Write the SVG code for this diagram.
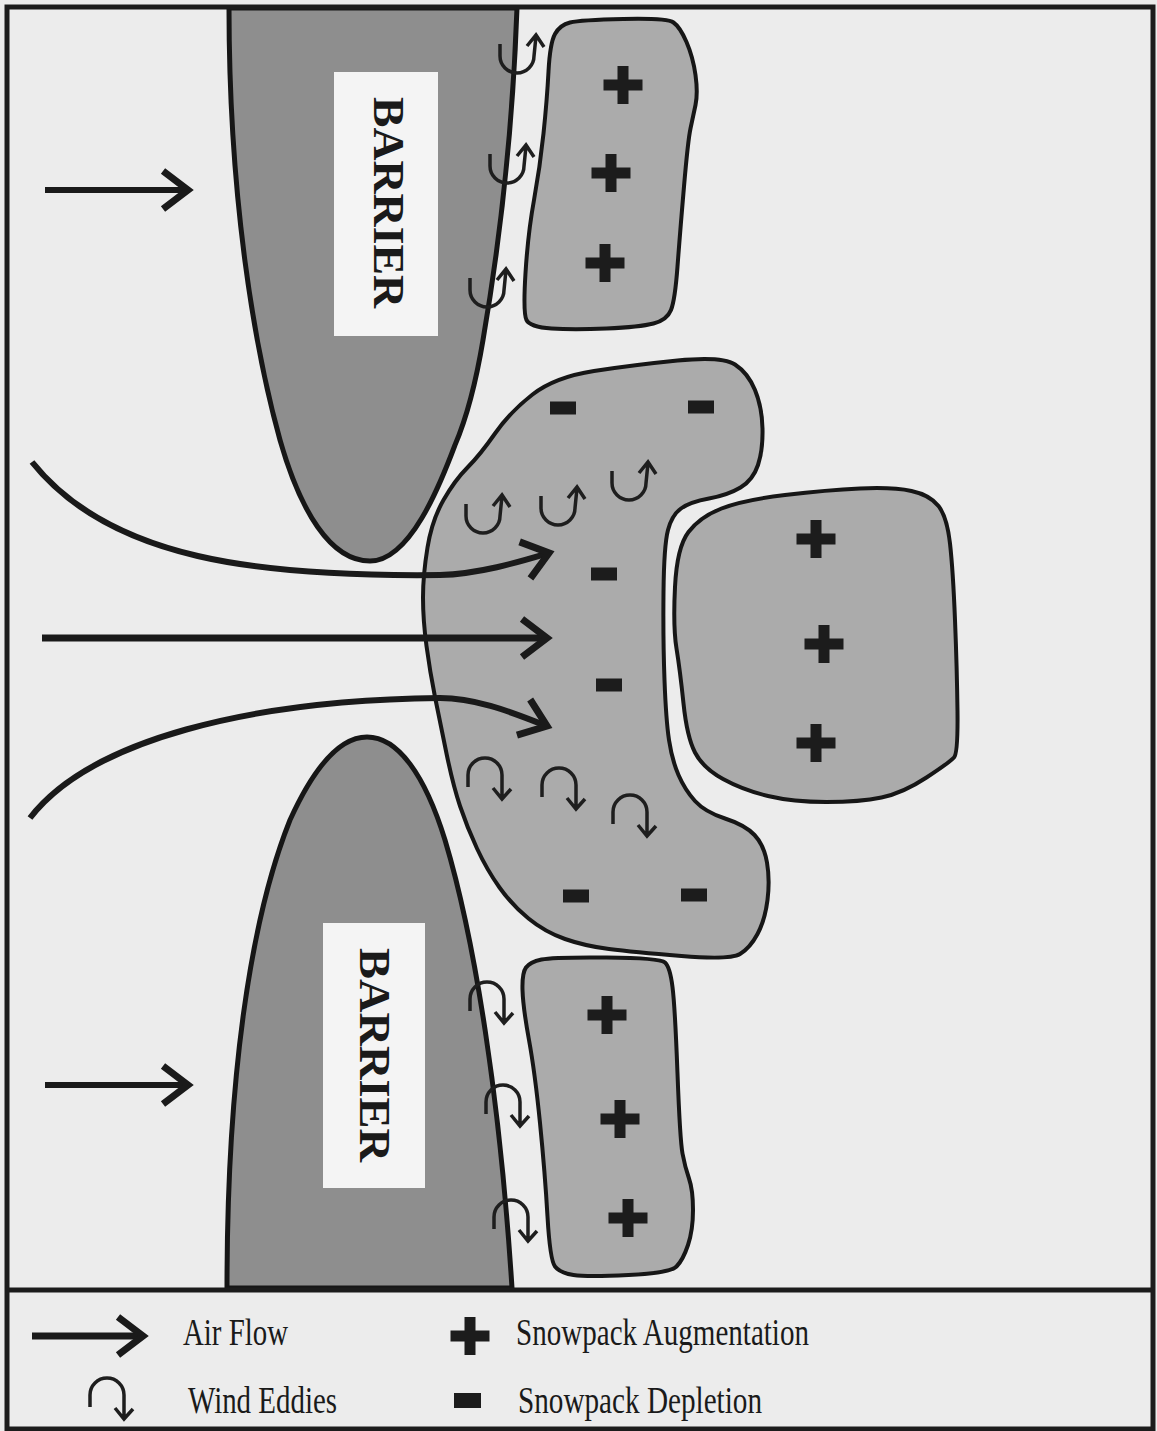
<svg xmlns="http://www.w3.org/2000/svg" xmlns:xlink="http://www.w3.org/1999/xlink" width="1157" height="1431" viewBox="0 0 1157 1431">
<style>
.bg{fill:#ececec}
.frame{fill:none;stroke:#1c1c1c;stroke-width:5}
.barrier{fill:#8e8e8e;stroke:#161616;stroke-width:5;stroke-linejoin:round}
.snow{fill:#ababab;stroke:#161616;stroke-width:4;stroke-linejoin:round}
.lbox{fill:#f4f4f4}
.btext{font-family:"Liberation Serif","Times New Roman",serif;font-weight:bold;font-size:45px;fill:#1a1a1a}
.flow{fill:none;stroke:#1a1a1a;stroke-width:6}
.flow7{fill:none;stroke:#1a1a1a;stroke-width:7}
.eddy{fill:none;stroke:#1e1e1e;stroke-width:3.5;stroke-linejoin:miter}
.mark{fill:#1c1c1c}
.ltext{font-family:"Liberation Serif","Times New Roman",serif;font-size:38px;fill:#1a1a1a}
</style>
<defs>
<marker id="head" markerUnits="userSpaceOnUse" markerWidth="60" markerHeight="60" viewBox="-40 -30 60 60" refX="0" refY="0" orient="auto" overflow="visible">
<path d="M-25,-19 L0,0 L-25,19" fill="none" stroke="#1a1a1a" stroke-width="7"/>
</marker>
<path id="eddyUp" class="eddy" d="M-17,-12 L-17,0 A17,17 0 0 0 17,0 L19,-20 M10,-10 L19,-21 L27,-9"/>
<path id="eddyDown" class="eddy" d="M-17,12 L-17,0 A17,17 0 0 1 17,0 L17,23 M8,13 L17,24 L26,14"/>
<path id="plus" class="mark" d="M-19.5,-5.5 h39 v11 h-39z M-5.5,-19 h11 v38 h-11z"/>
<rect id="minus" class="mark" x="-13" y="-6.5" width="26" height="13"/>
</defs>

<rect class="bg" x="0" y="0" width="1157" height="1431"/>

<g id="barrier-top">
<path class="barrier" d="M229,8 L517,8 C512,150 495,270 483,340 C478,370 470,410 455,445 C440,485 410,561 370,561 C330,561 300,510 280,440 C255,350 229,200 229,8 Z"/>
<rect class="lbox" x="334" y="72" width="104" height="264"/>
<text class="btext" transform="translate(374,202.5) rotate(90)" text-anchor="middle" textLength="211" lengthAdjust="spacingAndGlyphs">BARRIER</text>
</g>

<g id="barrier-bottom">
<path class="barrier" d="M227,1288 C227,1080 250,920 290,820 C315,765 340,737 367,737 C398,737 425,775 445,840 C475,940 500,1100 512,1288 Z"/>
<rect class="lbox" x="323" y="923" width="102" height="265"/>
<text class="btext" transform="translate(360,1055) rotate(90)" text-anchor="middle" textLength="214" lengthAdjust="spacingAndGlyphs">BARRIER</text>
</g>

<g id="snow-top">
<path class="snow" d="M548.5,71.5 Q550,43 555,34 Q560,25 570,22.5 Q580,20 623.5,19 Q667,18 673.5,22.5 Q680,27 686.5,42 Q693,57 695.5,75 Q698,93 695.5,105 Q693,117 690.5,128.5 Q688,140 684,186.5 Q680,233 677.5,266.5 Q675,300 671,310 Q667,320 653.5,323.5 Q640,327 606.5,328.5 Q573,330 551.5,328.5 Q530,327 526.5,320 Q523,313 525.5,273 Q528,233 534,200 Q540,167 543.5,133.5 Q547,100 548.5,71.5 Z"/>
<use xlink:href="#plus" href="#plus" x="623" y="85"/>
<use xlink:href="#plus" href="#plus" x="611" y="173"/>
<use xlink:href="#plus" href="#plus" x="605" y="263"/>
</g>

<g id="snow-middle">
<path class="snow" d="M423,597.5 Q423,575 427.5,547.5 Q432,520 443.5,500 Q455,480 467.5,467.5 Q480,455 495,433.5 Q510,412 532.5,394.5 Q555,377 594,371 Q633,365 677.5,360.5 Q722,356 735,364.5 Q748,373 755,390 Q762,407 762.5,428.5 Q763,450 758,465 Q753,480 740.5,487.5 Q728,495 709,498.5 Q690,502 681,508.5 Q672,515 668,530 Q664,545 663.5,592.5 Q663,640 664.5,680 Q666,720 669,740 Q672,760 678.5,775 Q685,790 695,801 Q705,812 725,818.5 Q745,825 754.5,835 Q764,845 767,862.5 Q770,880 767.5,900 Q765,920 757.5,934 Q750,948 740,954 Q730,960 681.5,956 Q633,952 609,949 Q585,946 565,939 Q545,932 528.5,918.5 Q512,905 499.5,887.5 Q487,870 477,848.5 Q467,827 460,806 Q453,785 446.5,753.5 Q440,722 435,697 Q430,672 426.5,646 Q423,620 423,597.5 Z"/>
<use xlink:href="#minus" href="#minus" x="563" y="408"/>
<use xlink:href="#minus" href="#minus" x="701" y="407"/>
<use xlink:href="#minus" href="#minus" x="604" y="574"/>
<use xlink:href="#minus" href="#minus" x="609" y="685"/>
<use xlink:href="#minus" href="#minus" x="576" y="896"/>
<use xlink:href="#minus" href="#minus" x="694" y="895"/>
</g>

<g id="snow-right">
<path class="snow" d="M675,587 Q677,547 688.5,532 Q700,517 721.5,508.5 Q743,500 785,495 Q827,490 860,488.5 Q893,487 911.5,491 Q930,495 938.5,506 Q947,517 950,543.5 Q953,570 955,620 Q957,670 957.5,711.5 Q958,753 954,757.5 Q950,762 926.5,777.5 Q903,793 881.5,797.5 Q860,802 826.5,802 Q793,802 768,796 Q743,790 723,779 Q703,768 695,752.5 Q687,737 683.5,703.5 Q680,670 676.5,648.5 Q673,627 675,587 Z"/>
<use xlink:href="#plus" href="#plus" x="816" y="539"/>
<use xlink:href="#plus" href="#plus" x="824" y="644"/>
<use xlink:href="#plus" href="#plus" x="816" y="743"/>
</g>

<g id="snow-bottom">
<path class="snow" d="M522.5,990 Q522,973 526,967.5 Q530,962 541.5,959.5 Q553,957 606.5,957.5 Q660,958 665,962.5 Q670,967 672.5,987 Q675,1007 677.5,1073.5 Q680,1140 682.5,1153.5 Q685,1167 689,1178.5 Q693,1190 693,1210 Q693,1230 688,1245 Q683,1260 676.5,1266.5 Q670,1273 628.5,1275 Q587,1277 573.5,1275 Q560,1273 555,1266.5 Q550,1260 547.5,1216.5 Q545,1173 540,1123 Q535,1073 529,1040 Q523,1007 522.5,990 Z"/>
<use xlink:href="#plus" href="#plus" x="607" y="1015"/>
<use xlink:href="#plus" href="#plus" x="620" y="1119"/>
<use xlink:href="#plus" href="#plus" x="628" y="1218"/>
</g>

<g id="eddies">
<use xlink:href="#eddyUp" href="#eddyUp" x="517" y="56"/>
<use xlink:href="#eddyUp" href="#eddyUp" x="507" y="166"/>
<use xlink:href="#eddyUp" href="#eddyUp" x="487" y="290"/>
<use xlink:href="#eddyUp" href="#eddyUp" x="483" y="516"/>
<use xlink:href="#eddyUp" href="#eddyUp" x="558" y="508"/>
<use xlink:href="#eddyUp" href="#eddyUp" x="629" y="483"/>
<use xlink:href="#eddyDown" href="#eddyDown" x="485" y="775"/>
<use xlink:href="#eddyDown" href="#eddyDown" x="559" y="785"/>
<use xlink:href="#eddyDown" href="#eddyDown" x="630" y="812"/>
<use xlink:href="#eddyDown" href="#eddyDown" x="487" y="999"/>
<use xlink:href="#eddyDown" href="#eddyDown" x="503" y="1102"/>
<use xlink:href="#eddyDown" href="#eddyDown" x="511" y="1217"/>
</g>

<g id="connectors">
<path class="flow" d="M45,190 L188,190" marker-end="url(#head)"/>
<path class="flow" d="M32,462 C110,560 260,577 440,575 C480,574 522,561 549,553" marker-end="url(#head)"/>
<path class="flow7" d="M42,638 L547,638" marker-end="url(#head)"/>
<path class="flow" d="M30,818 C90,740 250,700 440,698 C480,698 520,716 547,726" marker-end="url(#head)"/>
<path class="flow" d="M45,1085 L188,1085" marker-end="url(#head)"/>
</g>

<g id="frame">
<rect class="frame" x="7" y="7" width="1146" height="1422"/>
<line class="frame" x1="7" y1="1290" x2="1153" y2="1290"/>
</g>

<g id="legend">
<path class="flow7" d="M32,1336 L143,1336" marker-end="url(#head)"/>
<text class="ltext" x="183" y="1345" textLength="105" lengthAdjust="spacingAndGlyphs">Air Flow</text>
<use xlink:href="#eddyDown" href="#eddyDown" x="107" y="1395"/>
<text class="ltext" x="188" y="1413" textLength="149" lengthAdjust="spacingAndGlyphs">Wind Eddies</text>
<use xlink:href="#plus" href="#plus" x="470" y="1336"/>
<text class="ltext" x="516" y="1345" textLength="293" lengthAdjust="spacingAndGlyphs">Snowpack Augmentation</text>
<rect class="mark" x="454" y="1393" width="27" height="15"/>
<text class="ltext" x="518" y="1413" textLength="244" lengthAdjust="spacingAndGlyphs">Snowpack Depletion</text>
</g>
</svg>
